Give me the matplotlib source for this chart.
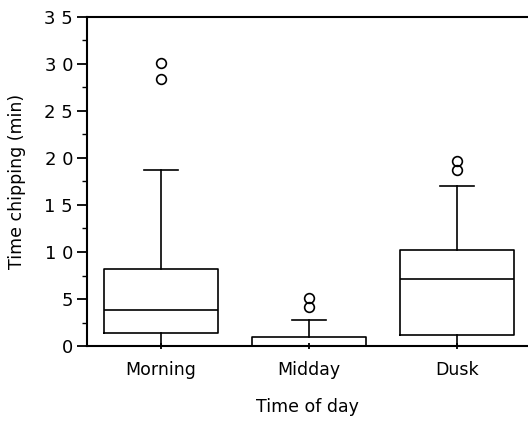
import matplotlib.pyplot as plt
from matplotlib.ticker import MultipleLocator, FuncFormatter

# values
groups = ['Morning', 'Midday', 'Dusk']
q1 = [1.35, 0.0, 1.2]
med = [3.85, 0.0, 7.15]
q3 = [8.2, 1.0, 10.2]
whislo = [0.0, 0.0, 0.0]
whishi = [18.7, 2.8, 17.0]
fliers = [[30.1, 28.4], [5.1, 4.2], [19.7, 18.7]]

stats = []
for i in range(len(groups)):
    stats.append({'label': groups[i], 'q1': q1[i], 'med': med[i], 'q3': q3[i],
                  'whislo': whislo[i], 'whishi': whishi[i], 'fliers': fliers[i]})

plt.rcParams['font.family'] = 'DejaVu Sans'

fig = plt.figure(figsize=(5.28, 4.21), dpi=100)
ax = fig.add_axes([87/528, 1 - 346/421, 1 - 87/528, (346 - 17)/421])

lw = 1.2
ax.bxp(stats, positions=[1, 2, 3], widths=0.77, capwidths=0.225,
       boxprops=dict(color='black', linewidth=lw),
       medianprops=dict(color='black', linewidth=lw),
       whiskerprops=dict(color='black', linewidth=lw),
       capprops=dict(color='black', linewidth=lw),
       flierprops=dict(marker='o', markerfacecolor='none', markeredgecolor='black',
                       markersize=7, markeredgewidth=1.2))

ax.set_xlim(0.5, 3.48)
ax.set_ylim(0, 35)
ax.yaxis.set_major_locator(MultipleLocator(5))
ax.yaxis.set_minor_locator(MultipleLocator(2.5))
ax.yaxis.set_major_formatter(FuncFormatter(lambda v, p: ' '.join(str(int(v)))))

for s in ['left', 'bottom', 'top']:
    ax.spines[s].set_linewidth(1.5)
ax.spines['right'].set_visible(False)

ax.tick_params(axis='y', which='major', length=7, width=1.3, labelsize=13, pad=3)
ax.tick_params(axis='y', which='minor', length=3.5, width=1.0)
ax.tick_params(axis='x', which='major', length=5, width=1.3, direction='inout',
               labelsize=12.5, pad=8)
ax.set_xticks([1, 2, 3])
ax.set_xticklabels(groups)

ax.set_xlabel('Time of day', fontsize=12.5, labelpad=14)
ax.set_ylabel('Time chipping (min)', fontsize=12.5, labelpad=13)

fig.savefig('out.png', dpi=100)
